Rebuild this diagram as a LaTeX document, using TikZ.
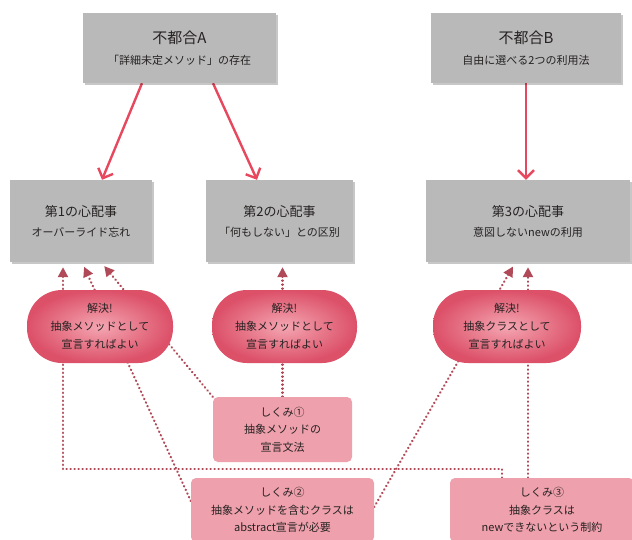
\documentclass[tikz,border=0pt]{standalone}
\usepackage{fontspec}
\setmainfont{Noto Sans CJK JP}
\usetikzlibrary{arrows.meta,shadows,calc}
\pgfdeclarelayer{bg}
\pgfsetlayers{bg,main}
\definecolor{boxgray}{HTML}{B9B9B9}
\definecolor{redline}{HTML}{E8485E}
\definecolor{dotred}{HTML}{B04A58}
\definecolor{pillout}{HTML}{DC5068}
\definecolor{pillin}{HTML}{F4A6B2}
\definecolor{mechfill}{HTML}{EEA0AC}
\definecolor{txt}{HTML}{262222}
\begin{document}
\begin{tikzpicture}[x=1pt,y=-1pt,
  graybox/.style={draw=none, fill=boxgray, inner sep=0pt, align=center, text=txt,
    drop shadow={shadow xshift=1.5pt, shadow yshift=-2pt, fill=black, opacity=0.22}},
  pill/.style={draw=none, shading=radial, inner color=pillin, outer color=pillout,
    rounded corners=35pt, minimum height=73pt, inner sep=0pt, align=center, text=txt,
    font=\fontsize{11}{18}\selectfont},
  mech/.style={draw=none, fill=mechfill, rounded corners=5pt, inner sep=0pt,
    align=center, text=txt, font=\fontsize{11}{17.5}\selectfont},
  redarrow/.style={draw=redline, line width=2.4pt,
    -{Straight Barb[length=8pt,width=16pt,line width=2.4pt]}},
  dotarrow/.style={draw=dotred, line width=2.3pt, dash pattern=on 0.4pt off 3.6pt, line cap=round,
    -{Triangle[length=10pt,width=10pt,fill=dotred]}, shorten >=5pt},
  dotline/.style={draw=dotred, line width=2.3pt, dash pattern=on 0.4pt off 3.6pt, line cap=round}
]
\begin{pgfonlayer}{bg}
\fill[white] (0,0) rectangle (632,539);
\end{pgfonlayer}
\useasboundingbox (0,0) rectangle (632,539);

% problem boxes
\node[graybox, minimum width=193pt, minimum height=70pt] (A) at (179.5,48)
  {{\fontsize{15}{18}\selectfont 不都合A}\\[9pt]{\fontsize{11}{13}\selectfont 「詳細未定メソッド」の存在}};
\node[graybox, minimum width=190pt, minimum height=70pt] (B) at (526,48)
  {{\fontsize{15}{18}\selectfont 不都合B}\\[9pt]{\fontsize{11}{13}\selectfont 自由に選べる2つの利用法}};

% concern boxes
\node[graybox, minimum width=142pt, minimum height=82pt] (C1) at (81,221)
  {{\fontsize{13}{16}\selectfont 第1の心配事}\\[8pt]{\fontsize{11}{13}\selectfont オーバーライド忘れ}};
\node[graybox, minimum width=147pt, minimum height=82pt] (C2) at (279.5,221)
  {{\fontsize{13}{16}\selectfont 第2の心配事}\\[8pt]{\fontsize{11}{13}\selectfont 「何もしない」との区別}};
\node[graybox, minimum width=204pt, minimum height=82pt] (C3) at (528,221)
  {{\fontsize{13}{16}\selectfont 第3の心配事}\\[8pt]{\fontsize{11}{13}\selectfont 意図しないnewの利用}};

% solution pills
\node[pill, minimum width=146pt] (P1) at (100,326.5) {解決!\\抽象メソッドとして\\宣言すればよい};
\node[pill, minimum width=145pt] (P2) at (284.5,326.5) {解決!\\抽象メソッドとして\\宣言すればよい};
\node[pill, minimum width=148pt] (P3) at (507,326.5) {解決!\\抽象クラスとして\\宣言すればよい};

% mechanism boxes
\node[mech, minimum width=139pt, minimum height=65pt] (S1) at (282.5,429.5) {しくみ①\\抽象メソッドの\\宣言文法};
\node[mech, minimum width=183pt, minimum height=64pt] (S2) at (282.5,510) {しくみ②\\抽象メソッドを含むクラスは\\abstract宣言が必要};
\node[mech, minimum width=184pt, minimum height=64pt] (S3) at (542,510) {しくみ③\\抽象クラスは\\newできないという制約};

\coordinate (k1) at (502,469);
\coordinate (k2) at (63,469);

\begin{pgfonlayer}{bg}
  % red arrows
  \draw[redarrow] ([xshift=-37.5pt]A.south) -- ([xshift=21pt]C1.north);
  \draw[redarrow] ([xshift=33.5pt]A.south) -- ([xshift=-22.5pt]C2.north);
  \draw[redarrow] (B.south) -- (B.south |- C3.north);
  % dotted arrows
  \draw[dotline] (S3.north -| k1) -- (k1) -- (k2);
  \draw[dotarrow] (k2) -- (k2 |- C1.south);
  \draw[dotarrow] ([yshift=9pt]S2.west) -- ([xshift=1pt]C1.south);
  \draw[dotarrow] (S1.north west) -- ([xshift=20pt]C1.south);
  \draw[dotarrow] (S1.north) -- (S1.north |- C2.south);
  \draw[dotarrow] ([yshift=3pt]S2.east) -- ([xshift=-12.5pt]C3.south);
  \draw[dotarrow] (C3.south |- S3.north) -- (C3.south);
\end{pgfonlayer}
\end{tikzpicture}
\end{document}
